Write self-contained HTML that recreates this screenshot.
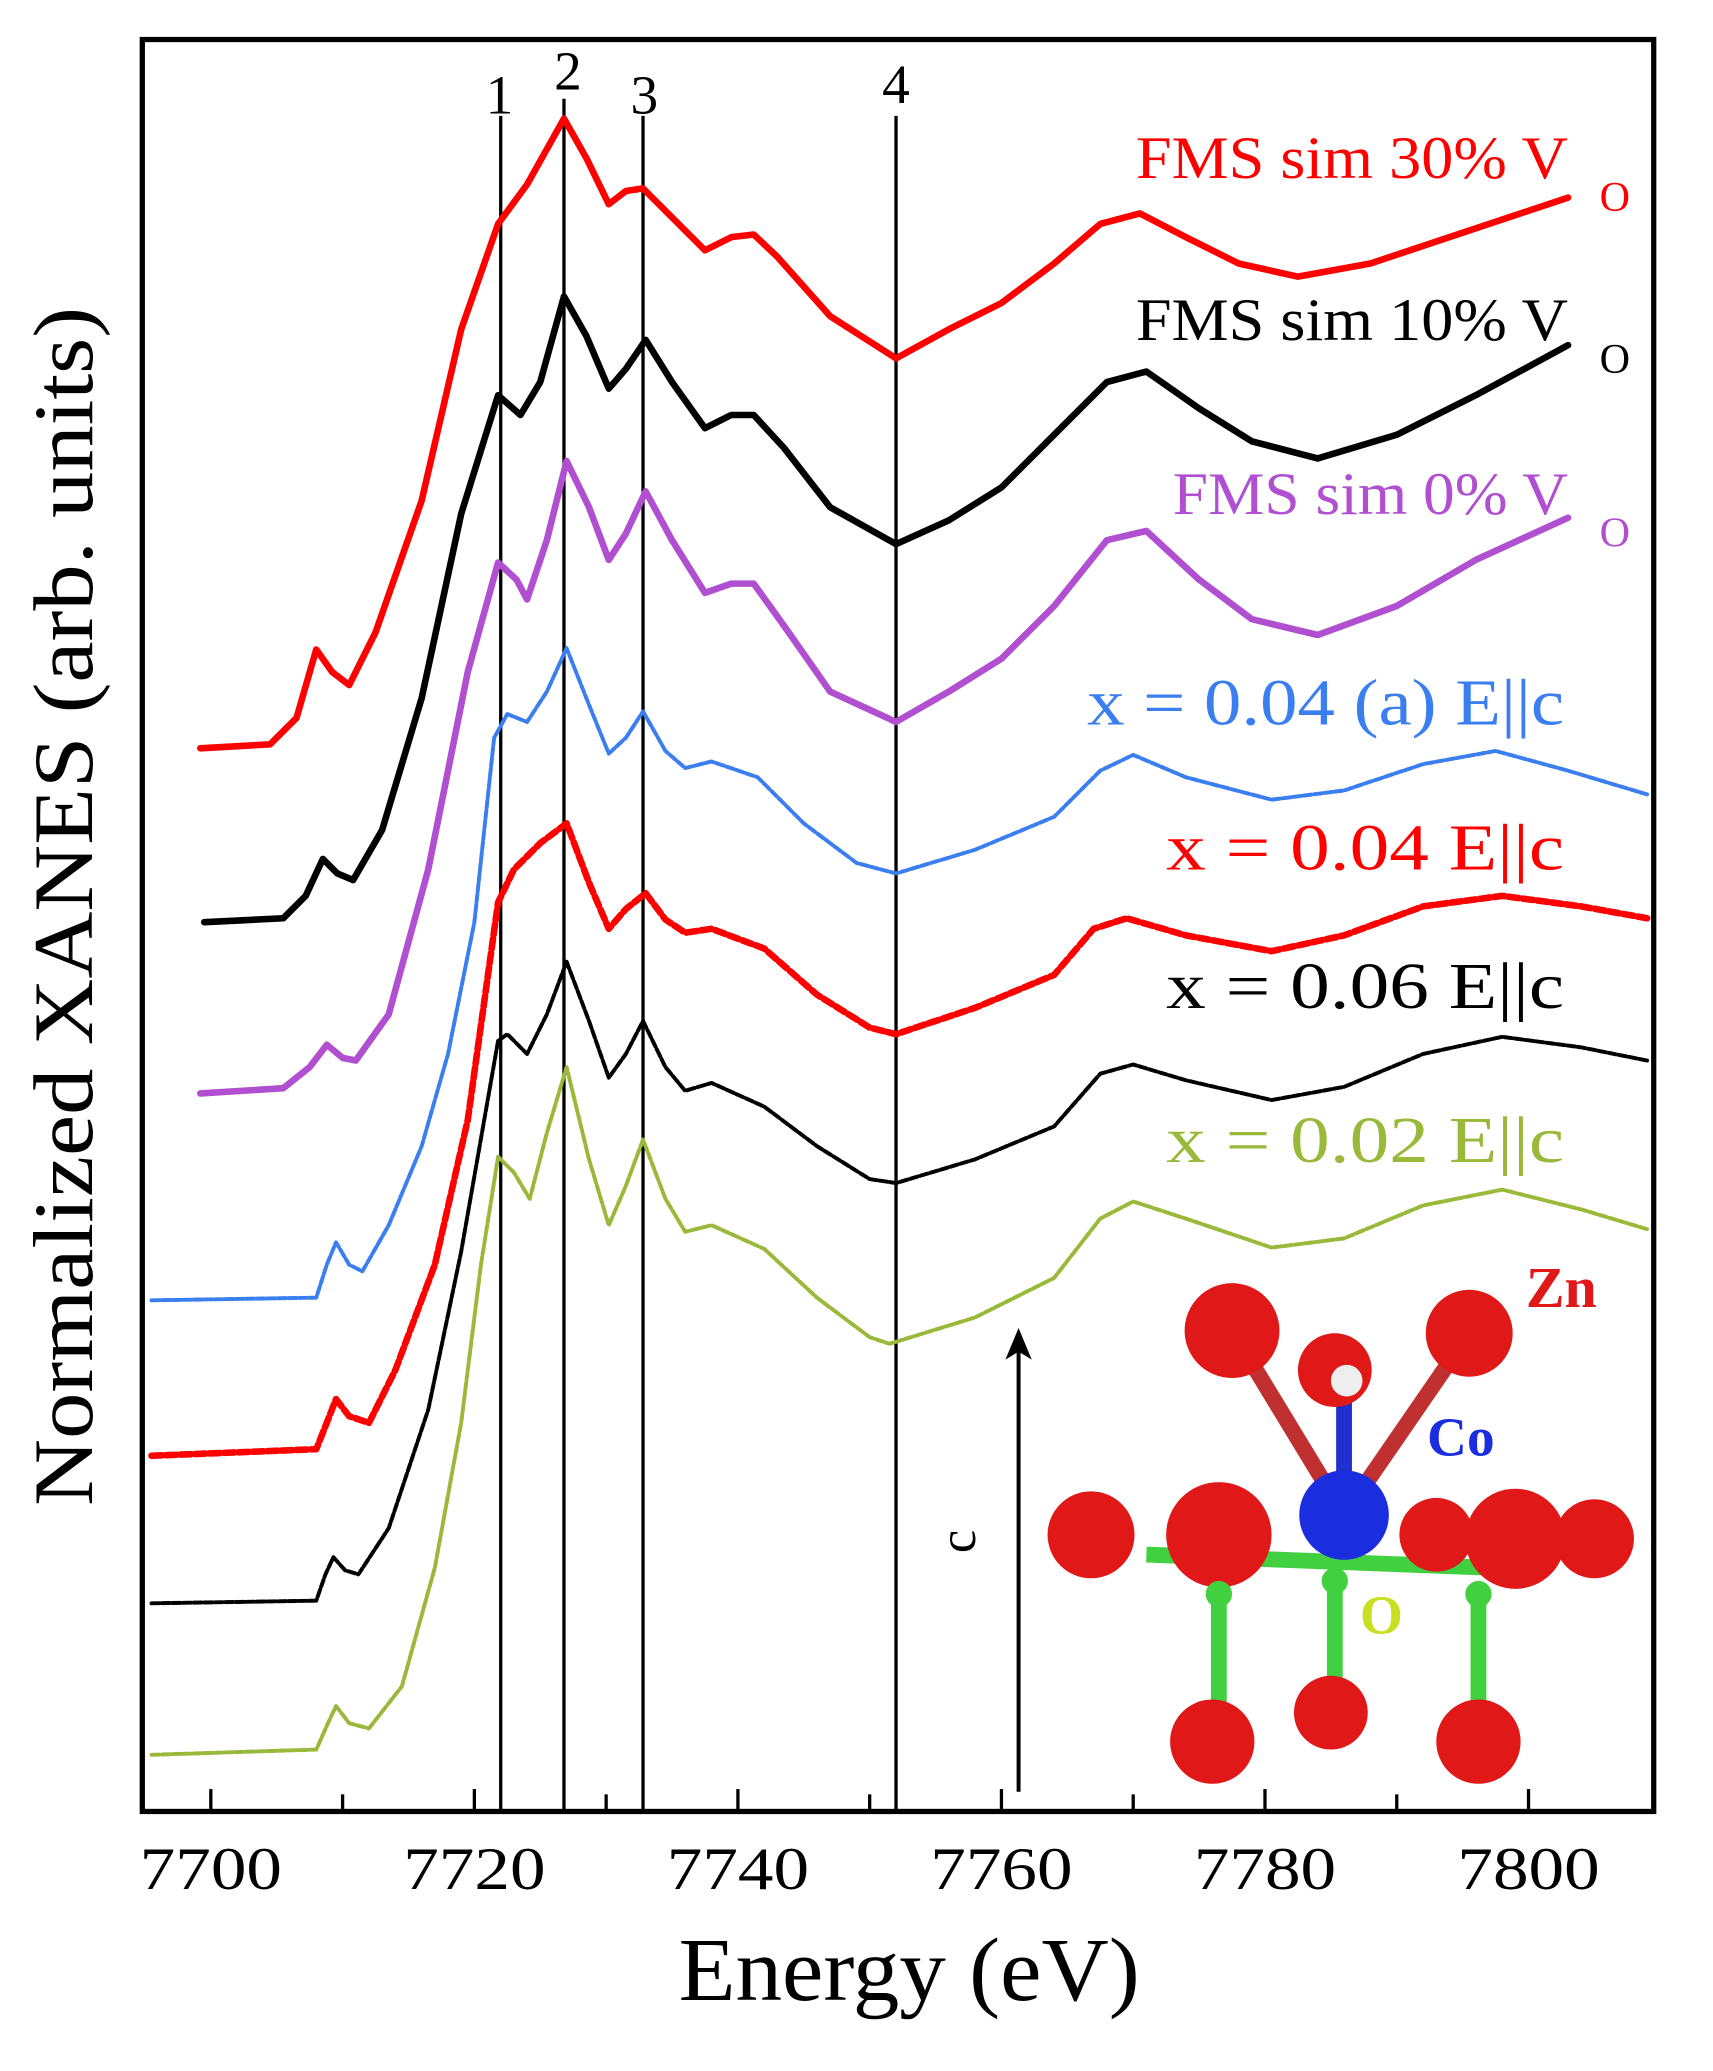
<!DOCTYPE html>
<html><head><meta charset="utf-8"><style>html,body{margin:0;padding:0;background:#fff}svg{display:block}</style></head>
<body>
<svg width="1713" height="2071" viewBox="0 0 1300 1572" preserveAspectRatio="none" xmlns="http://www.w3.org/2000/svg" font-family="'Liberation Serif', serif">
<rect x="0" y="0" width="1300" height="1572" fill="#fff"/>
<rect x="108" y="30" width="1147" height="1345" fill="none" stroke="#000" stroke-width="4"/>
<g stroke="#000" stroke-width="2.5">
<line x1="160" y1="1375" x2="160" y2="1358"/><line x1="260" y1="1375" x2="260" y2="1362"/><line x1="360" y1="1375" x2="360" y2="1358"/><line x1="460" y1="1375" x2="460" y2="1362"/><line x1="560" y1="1375" x2="560" y2="1358"/><line x1="660" y1="1375" x2="660" y2="1362"/><line x1="760" y1="1375" x2="760" y2="1358"/><line x1="860" y1="1375" x2="860" y2="1362"/><line x1="960" y1="1375" x2="960" y2="1358"/><line x1="1060" y1="1375" x2="1060" y2="1362"/><line x1="1160" y1="1375" x2="1160" y2="1358"/>
</g>
<g font-size="46" text-anchor="middle" fill="#000">
<text x="160" y="1434" textLength="108" lengthAdjust="spacingAndGlyphs">7700</text><text x="360" y="1434" textLength="108" lengthAdjust="spacingAndGlyphs">7720</text><text x="560" y="1434" textLength="108" lengthAdjust="spacingAndGlyphs">7740</text><text x="760" y="1434" textLength="108" lengthAdjust="spacingAndGlyphs">7760</text><text x="960" y="1434" textLength="108" lengthAdjust="spacingAndGlyphs">7780</text><text x="1160" y="1434" textLength="108" lengthAdjust="spacingAndGlyphs">7800</text>
</g>
<text x="690" y="1518" font-size="68" text-anchor="middle" textLength="350" lengthAdjust="spacingAndGlyphs">Energy (eV)</text>
<text transform="translate(70,688) rotate(-90)" font-size="64" text-anchor="middle" textLength="910" lengthAdjust="spacingAndGlyphs">Normalized XANES (arb. units)</text>
<g stroke="#000" stroke-width="2.5">
<line x1="380" y1="88" x2="380" y2="1375"/><line x1="428" y1="75" x2="428" y2="1375"/><line x1="488" y1="88" x2="488" y2="1375"/><line x1="680" y1="88" x2="680" y2="1375"/>
</g>
<g font-size="42" text-anchor="middle"><text x="379" y="86">1</text><text x="431" y="68">2</text><text x="489" y="86">3</text><text x="680" y="78">4</text></g>
<g fill="none" stroke-linejoin="round" stroke-linecap="round">
<polyline stroke="#f00" stroke-width="5" points="152,568 205,565 225,545 240,493 252,510 265,520 285,480 320,380 350,250 378,170 400,140 428,90 445,120 462,155 475,145 488,143 505,160 535,190 555,180 572,178 590,195 630,240 680,272 720,250 760,230 800,200 835,170 865,162 900,180 940,200 985,210 1040,200 1100,180 1190,150"/>
<polyline stroke="#000" stroke-width="5" points="155,700 215,697 232,680 245,652 256,663 268,668 290,630 320,530 350,390 378,300 395,315 410,290 428,225 445,255 462,295 475,280 490,258 510,290 535,325 555,315 572,315 595,340 630,385 680,413 720,395 760,370 800,330 840,290 870,282 910,310 950,335 1000,348 1060,330 1120,300 1190,262"/>
<polyline stroke="#b050d0" stroke-width="5" points="152,830 215,826 235,810 248,793 260,803 270,805 295,770 325,660 355,510 378,427 392,440 400,455 415,410 430,350 447,385 462,425 475,405 490,373 510,410 535,450 555,443 572,443 595,475 630,525 680,548 720,525 760,500 800,460 840,410 870,403 910,440 950,470 1000,482 1060,460 1120,425 1190,393"/>
<polyline stroke="#3a7ef0" stroke-width="3" stroke-dasharray="6 2" points="115,987 240,985 248,960 255,943 265,960 275,965 295,930 320,870 340,800 360,700 375,560 385,542 400,548 415,525 430,492 447,535 462,572 475,560 488,540 505,570 520,583 540,578 575,590 610,625 650,655 680,663 740,645 800,620 835,585 860,573 900,590 965,607 1020,600 1080,580 1135,570 1190,585 1250,603"/>
<polyline stroke="#f00" stroke-width="5" stroke-dasharray="8 3" points="115,1105 240,1100 248,1080 255,1062 265,1075 280,1080 300,1040 330,960 355,850 378,685 390,660 410,640 430,625 447,670 462,705 475,690 490,678 505,698 520,708 540,705 580,720 620,755 660,780 680,785 740,765 800,740 830,705 855,697 900,710 965,722 1020,710 1080,688 1140,680 1200,688 1250,697"/>
<polyline stroke="#000" stroke-width="3" stroke-dasharray="6 2" points="115,1217 240,1215 247,1195 253,1182 262,1192 272,1195 295,1160 325,1070 350,950 378,790 385,785 400,800 415,770 430,730 447,775 462,818 475,800 488,775 505,810 520,828 540,822 580,840 620,870 660,895 680,898 740,880 800,855 835,815 860,808 900,820 965,835 1020,825 1080,800 1140,787 1200,795 1250,805"/>
<polyline stroke="#9ab83a" stroke-width="3" stroke-dasharray="6 2" points="115,1332 240,1328 248,1310 255,1295 265,1308 280,1312 305,1280 330,1190 350,1080 365,960 378,878 390,890 402,910 415,860 430,810 447,880 462,930 475,900 488,865 505,910 520,935 540,930 580,948 620,985 660,1015 675,1020 740,1000 800,970 835,925 860,912 900,925 965,947 1020,940 1080,915 1140,903 1200,918 1250,933"/>
</g>
<g font-size="46" lengthAdjust="spacingAndGlyphs">
<text x="862" y="135" textLength="328" lengthAdjust="spacingAndGlyphs" fill="#f00">FMS sim 30% V</text><text x="1214" y="160" font-size="32" fill="#f00">O</text>
<text x="862" y="258" textLength="328" lengthAdjust="spacingAndGlyphs" fill="#000">FMS sim 10% V</text><text x="1214" y="283" font-size="32" fill="#000">O</text>
<text x="890" y="390" textLength="300" lengthAdjust="spacingAndGlyphs" fill="#b050d0">FMS sim 0% V</text><text x="1214" y="415" font-size="32" fill="#b050d0">O</text>
<text x="825" y="550" textLength="362" lengthAdjust="spacingAndGlyphs" fill="#3a7ef0" font-size="50">x = 0.04 (a) E||c</text>
<text x="885" y="660" textLength="302" lengthAdjust="spacingAndGlyphs" fill="#f00" font-size="50">x = 0.04  E||c</text>
<text x="885" y="765" textLength="302" lengthAdjust="spacingAndGlyphs" fill="#000" font-size="50">x = 0.06  E||c</text>
<text x="885" y="882" textLength="302" lengthAdjust="spacingAndGlyphs" fill="#9ab83a" font-size="50">x = 0.02  E||c</text>
</g>
<line x1="773" y1="1360" x2="773" y2="1025" stroke="#000" stroke-width="3"/>
<polygon points="773,1008 763,1032 773,1026 783,1032" fill="#000"/>
<text transform="translate(740,1170) rotate(-90)" font-size="40" text-anchor="middle">c</text>
<g stroke-width="12">
<line x1="935" y1="1010" x2="1020" y2="1150" stroke="#c03030"/>
<line x1="1115" y1="1012" x2="1020" y2="1150" stroke="#c03030"/>
<line x1="1020" y1="1150" x2="1020" y2="1060" stroke="#2030d0"/>
<line x1="870" y1="1180" x2="1130" y2="1190" stroke="#40d040"/>
<line x1="925" y1="1210" x2="925" y2="1320" stroke="#40d040"/>
<line x1="1013" y1="1200" x2="1013" y2="1300" stroke="#40d040"/>
<line x1="1122" y1="1210" x2="1122" y2="1320" stroke="#40d040"/>
</g>
<g fill="#e01818">
<circle cx="935" cy="1010" r="36"/><circle cx="1115" cy="1012" r="33"/><circle cx="1013" cy="1040" r="28"/>
<circle cx="828" cy="1165" r="33"/><circle cx="925" cy="1165" r="40"/><circle cx="1090" cy="1165" r="28"/>
<circle cx="1150" cy="1168" r="38"/><circle cx="1210" cy="1168" r="30"/>
<circle cx="920" cy="1322" r="32"/><circle cx="1010" cy="1300" r="28"/><circle cx="1122" cy="1322" r="32"/>
</g>
<g fill="#40d040"><circle cx="925" cy="1210" r="10"/><circle cx="1013" cy="1200" r="10"/><circle cx="1122" cy="1210" r="10"/></g>
<circle cx="1020" cy="1150" r="34" fill="#1a2ee0"/>
<circle cx="1022" cy="1048" r="12" fill="#eee"/>
<text x="1158" y="992" font-size="44" font-weight="bold" fill="#e01818">Zn</text>
<text x="1083" y="1105" font-size="42" font-weight="bold" fill="#1a2ee0">Co</text>
<text x="1032" y="1240" font-size="42" font-weight="bold" fill="#c8e020">O</text>
</svg>
</body></html>
